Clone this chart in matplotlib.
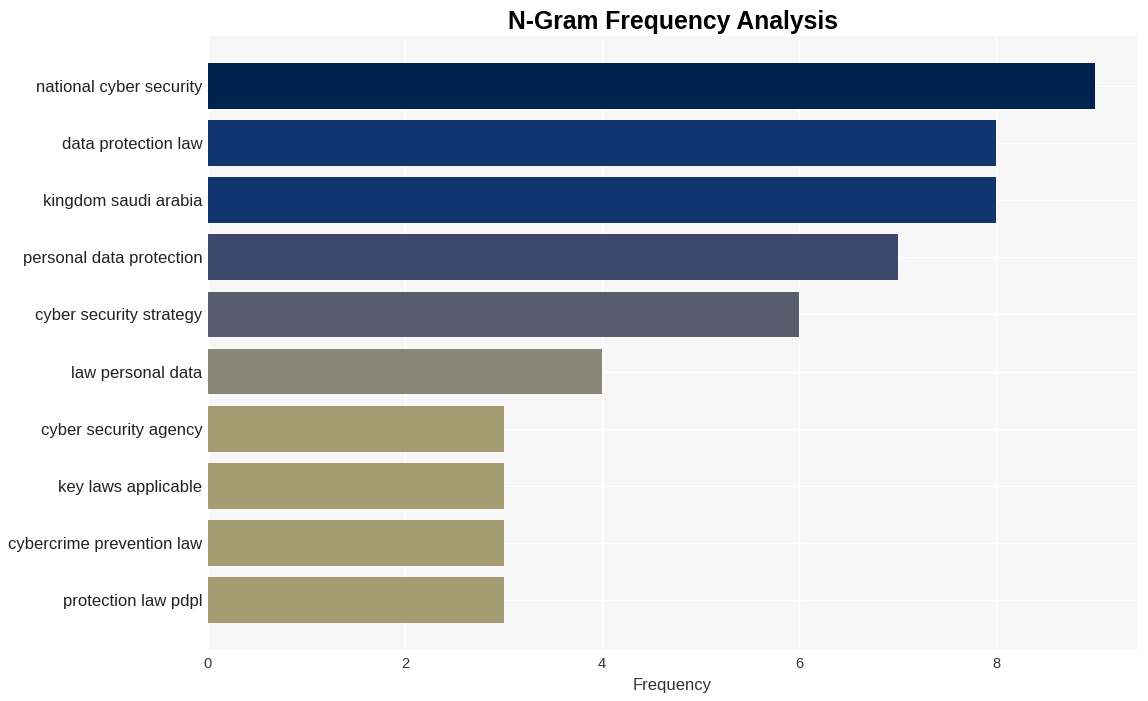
import matplotlib
matplotlib.use("Agg")
import matplotlib.pyplot as plt

plt.rcParams['font.family'] = ['Liberation Sans', 'DejaVu Sans']

ngrams = ["national cyber security", "data protection law", "kingdom saudi arabia",
          "personal data protection", "cyber security strategy", "law personal data",
          "cyber security agency", "key laws applicable", "cybercrime prevention law",
          "protection law pdpl"]
freqs = [9, 8, 8, 7, 6, 4, 3, 3, 3, 3]
colors = ["#00224e", "#123570", "#123570", "#3b496c", "#575d6d", "#8a8678",
          "#a59c74", "#a59c74", "#a59c74", "#a59c74"]

fig = plt.figure(figsize=(11.48, 7.01), dpi=100)
ax = fig.add_axes([208/1148, 1-650/701, (1137-208)/1148, (650-36)/701])
ax.set_facecolor("#f7f7f7")
ypos = list(range(len(ngrams)))
ax.barh(ypos, freqs, height=0.8, color=colors, zorder=2)
ax.set_yticks(ypos)
ax.set_yticklabels(ngrams, fontsize=12, color="#222222")
ax.set_xlim(0, 9.43)
ax.set_ylim(9.87, -0.87)
ax.set_xticks([0, 2, 4, 6, 8])
ax.tick_params(axis='x', labelsize=10.5, colors="#333333", length=0, pad=5)
ax.tick_params(axis='y', length=0, pad=4)
ax.grid(True, color="white", linewidth=1, zorder=0)
ax.set_axisbelow(True)
for s in ax.spines.values():
    s.set_visible(False)
ax.set_xlabel("Frequency", fontsize=12, color="#333333", labelpad=5)
fig.suptitle("N-Gram Frequency Analysis", fontsize=17.8, fontweight='bold',
             x=673/1148, y=1-10/701, va='top')
fig.savefig("out.png", dpi=100, facecolor="white")
